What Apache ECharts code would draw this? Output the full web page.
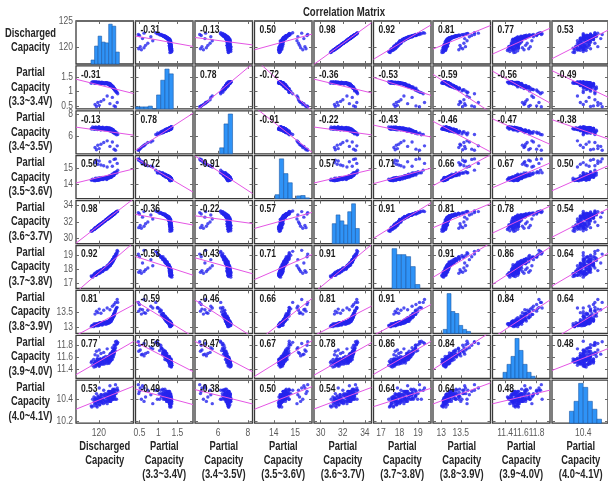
<!DOCTYPE html>
<html><head><meta charset="utf-8">
<script src="https://cdn.jsdelivr.net/npm/echarts@6/dist/echarts.min.js"></script>
<style>html,body{margin:0;padding:0;background:#fff}#c{width:608px;height:481px}</style>
</head><body><div id="c"></div>
<script>
// ---------------- data ----------------
const varLabels = [
  "Discharged\nCapacity",
  "Partial\nCapacity\n(3.3~3.4V)",
  "Partial\nCapacity\n(3.4~3.5V)",
  "Partial\nCapacity\n(3.5~3.6V)",
  "Partial\nCapacity\n(3.6~3.7V)",
  "Partial\nCapacity\n(3.7~3.8V)",
  "Partial\nCapacity\n(3.8~3.9V)",
  "Partial\nCapacity\n(3.9~4.0V)",
  "Partial\nCapacity\n(4.0~4.1V)"
];
const axisMin = [116.7, 0.395, 4.43, 13.1, 29.4, 16.6, 12.79, 11.24, 10.185];
const axisMax = [125.0, 1.91, 8.32, 15.78, 34.6, 19.7, 14.26, 11.97, 10.57];
const rowTicks = [[120,125],[0.5,1,1.5],[6,8],[14,15],[30,32,34],[17,18,19],[13,13.5],[11.4,11.6,11.8],[10.2,10.4]];
const colTicks = [[120],[0.5,1,1.5],[6,8],[14,15],[30,32,34],[17,18,19],[13,13.5],[11.4,11.6,11.8],[10.4]];
const corrText = [
  [null,-0.31,-0.13,0.50,0.98,0.92,0.81,0.77,0.53],
  [-0.31,null,0.78,-0.72,-0.36,-0.53,-0.59,-0.56,-0.49],
  [-0.13,0.78,null,-0.91,-0.22,-0.43,-0.46,-0.47,-0.38],
  [0.50,-0.72,-0.91,null,0.57,0.71,0.66,0.67,0.50],
  [0.98,-0.36,-0.22,0.57,null,0.91,0.81,0.78,0.54],
  [0.92,-0.53,-0.43,0.71,0.91,null,0.91,0.86,0.64],
  [0.81,-0.59,-0.46,0.66,0.81,0.91,null,0.84,0.64],
  [0.77,-0.56,-0.47,0.67,0.78,0.86,0.84,null,0.48],
  [0.53,-0.49,-0.38,0.50,0.54,0.64,0.64,0.48,null]
];
const V1 = [118.90,119.10,119.25,119.35,119.45,119.55,119.65,119.72,119.80,119.88,119.95,120.03,120.10,120.17,120.25,120.35,120.45,120.55,120.65,120.75,120.82,120.90,120.98,121.05,121.12,121.18,121.25,121.32,121.35,121.40,121.43,121.47,121.50,121.53,121.56,121.60,121.62,121.65,121.68,121.71,121.74,121.77,121.79,121.82,121.85,121.88,121.92,121.95,121.98,122.02,122.05,122.08,122.12,122.15,122.20,122.24,122.28,122.40,122.55,122.72,
  119.45,119.65,119.85,120.05,120.30,120.70,121.20,121.60,121.95,122.20,122.40,122.65,
  118.98,119.30,119.40,119.52,119.60,119.76,119.84,119.92,120.00,120.07,120.14,120.21,120.30,120.40,120.50,120.60,120.70,120.86,121.00,121.15,121.28,121.45,121.51,121.58,121.64,121.70,121.75,121.81,121.87,121.90,121.97,122.00,122.07,122.10,122.18,122.22,122.32,122.36,122.48,122.62];
const V2 = [1.30,1.35,1.32,1.35,1.31,1.33,1.32,1.34,1.30,1.33,1.30,1.34,1.31,1.32,1.29,1.32,1.30,1.33,1.29,1.31,1.28,1.32,1.29,1.32,1.28,1.30,1.29,1.30,1.26,1.29,1.26,1.30,1.26,1.27,1.23,1.26,1.24,1.27,1.22,1.23,1.20,1.24,1.20,1.23,1.18,1.20,1.18,1.20,1.15,1.17,1.14,1.17,1.13,1.13,1.09,1.11,1.08,1.07,0.97,0.93,
  0.55,0.48,0.62,0.52,0.66,0.72,0.85,0.58,0.80,0.50,0.47,0.62,
  1.33,1.34,1.30,1.32,1.35,1.30,1.33,1.31,1.34,1.29,1.32,1.33,1.29,1.34,1.30,1.32,1.29,1.28,1.31,1.32,1.28,1.28,1.24,1.25,1.27,1.22,1.23,1.20,1.22,1.17,1.18,1.18,1.13,1.17,1.11,1.12,1.06,1.03,1.02,0.98];
const V3 = [6.69,6.85,6.66,6.82,6.68,6.85,6.73,6.79,6.62,6.80,6.68,6.85,6.67,6.74,6.60,6.79,6.67,6.83,6.63,6.74,6.66,6.80,6.62,6.77,6.63,6.80,6.69,6.73,6.56,6.74,6.62,6.79,6.59,6.67,6.51,6.70,6.58,6.74,6.52,6.62,6.54,6.68,6.48,6.64,6.48,6.65,6.52,6.58,6.40,6.56,6.44,6.60,6.40,6.46,6.30,6.48,6.34,6.44,6.15,6.17,
  5.00,4.80,5.20,4.90,5.30,5.45,5.60,5.10,5.50,4.85,4.75,5.15,
  6.70,6.79,6.67,6.80,6.70,6.71,6.80,6.66,6.86,6.67,6.79,6.71,6.60,6.78,6.78,6.72,6.73,6.60,6.72,6.82,6.62,6.70,6.58,6.70,6.58,6.59,6.65,6.49,6.68,6.49,6.58,6.48,6.36,6.53,6.50,6.42,6.38,6.23,6.28,6.31];
const V4 = [14.26,14.31,14.23,14.26,14.22,14.33,14.27,14.34,14.27,14.31,14.32,14.35,14.27,14.35,14.32,14.41,14.35,14.35,14.31,14.40,14.38,14.43,14.35,14.37,14.33,14.44,14.38,14.46,14.39,14.43,14.43,14.46,14.39,14.47,14.45,14.53,14.47,14.47,14.43,14.53,14.50,14.55,14.48,14.50,14.47,14.57,14.52,14.59,14.53,14.58,14.58,14.62,14.55,14.64,14.62,14.71,14.66,14.70,14.72,14.88,
  15.35,15.50,15.25,15.45,15.20,15.15,15.08,15.40,15.12,15.55,15.58,15.30,
  14.26,14.30,14.25,14.37,14.24,14.37,14.26,14.24,14.31,14.41,14.31,14.34,14.30,14.31,14.43,14.30,14.40,14.37,14.43,14.30,14.42,14.46,14.42,14.54,14.43,14.54,14.46,14.45,14.52,14.62,14.54,14.58,14.55,14.57,14.70,14.58,14.71,14.69,14.79,14.72];
const V5 = [30.89,30.95,31.13,31.15,31.28,31.26,31.36,31.35,31.49,31.49,31.60,31.57,31.66,31.69,31.79,31.77,31.90,31.91,32.06,32.07,32.13,32.12,32.24,32.25,32.36,32.31,32.40,32.38,32.49,32.47,32.55,32.50,32.56,32.56,32.63,32.57,32.65,32.62,32.73,32.69,32.72,32.68,32.77,32.75,32.83,32.77,32.83,32.79,32.90,32.87,32.95,32.89,32.96,32.96,33.05,32.99,33.08,33.11,33.29,33.34,
  31.25,31.33,31.50,31.59,31.80,32.01,32.38,32.60,32.86,32.98,33.15,33.27,
  30.96,31.11,31.14,31.28,31.37,31.42,31.50,31.49,31.58,31.68,31.64,31.74,31.76,31.88,31.86,31.97,32.06,32.10,32.29,32.31,32.44,32.49,32.50,32.61,32.69,32.67,32.74,32.71,32.79,32.86,32.82,32.89,32.90,32.98,32.94,33.02,33.11,33.07,33.24,33.26];
const V6 = [17.50,17.42,17.55,17.55,17.66,17.55,17.69,17.63,17.79,17.71,17.77,17.68,17.83,17.78,17.92,17.81,17.90,17.83,18.01,17.95,18.08,17.96,18.06,18.06,18.16,18.04,18.18,18.13,18.29,18.21,18.26,18.17,18.31,18.26,18.39,18.27,18.34,18.26,18.43,18.36,18.49,18.37,18.46,18.45,18.56,18.44,18.58,18.52,18.68,18.62,18.67,18.59,18.75,18.71,18.86,18.76,18.85,18.87,19.18,19.28,
  17.70,17.77,17.83,17.89,17.96,18.08,18.24,18.44,18.68,18.89,19.08,19.35,
  17.46,17.62,17.56,17.65,17.56,17.68,17.79,17.68,17.78,17.74,17.86,17.73,17.85,17.92,17.84,18.03,17.94,18.07,18.01,18.01,18.17,18.32,18.26,18.35,18.27,18.38,18.51,18.41,18.53,18.49,18.65,18.52,18.67,18.73,18.69,18.89,18.86,18.98,19.00,19.10];
const V7 = [13.02,13.06,13.02,13.10,13.06,13.12,13.05,13.10,13.09,13.13,13.06,13.12,13.09,13.16,13.11,13.13,13.08,13.15,13.12,13.18,13.12,13.15,13.10,13.18,13.14,13.20,13.13,13.18,13.16,13.21,13.14,13.20,13.17,13.24,13.20,13.22,13.17,13.24,13.21,13.28,13.22,13.26,13.21,13.30,13.26,13.33,13.27,13.33,13.32,13.38,13.33,13.39,13.37,13.46,13.44,13.47,13.44,13.58,13.66,13.85,
  13.45,13.55,13.50,13.62,13.48,13.58,13.66,13.60,13.72,13.78,13.85,13.95,
  13.05,13.11,13.05,13.09,13.07,13.12,13.05,13.10,13.13,13.07,13.16,13.10,13.15,13.10,13.08,13.14,13.18,13.14,13.17,13.12,13.16,13.22,13.16,13.22,13.20,13.26,13.20,13.27,13.31,13.27,13.37,13.33,13.40,13.36,13.38,13.46,13.55,13.53,13.63,13.68];
const V8 = [11.51,11.46,11.56,11.49,11.51,11.44,11.53,11.49,11.57,11.47,11.52,11.45,11.56,11.49,11.57,11.48,11.54,11.52,11.58,11.48,11.56,11.51,11.61,11.54,11.56,11.49,11.58,11.54,11.61,11.52,11.56,11.50,11.60,11.54,11.62,11.53,11.59,11.57,11.63,11.54,11.62,11.57,11.67,11.61,11.63,11.56,11.66,11.62,11.70,11.61,11.66,11.60,11.72,11.66,11.75,11.67,11.74,11.76,11.87,11.85,
  11.64,11.70,11.62,11.72,11.66,11.68,11.74,11.65,11.76,11.80,11.86,11.83,
  11.53,11.43,11.50,11.53,11.46,11.57,11.49,11.55,11.48,11.45,11.53,11.57,11.51,11.55,11.48,11.53,11.59,11.50,11.56,11.52,11.60,11.50,11.57,11.60,11.53,11.66,11.58,11.65,11.59,11.56,11.65,11.70,11.65,11.70,11.64,11.70,11.80,11.71,11.81,11.83];
const V9 = [10.34,10.40,10.34,10.38,10.37,10.41,10.34,10.40,10.36,10.43,10.38,10.40,10.35,10.41,10.38,10.44,10.37,10.40,10.36,10.43,10.39,10.45,10.38,10.42,10.41,10.45,10.38,10.44,10.40,10.47,10.42,10.44,10.38,10.45,10.41,10.47,10.40,10.43,10.38,10.46,10.41,10.47,10.40,10.44,10.43,10.47,10.40,10.45,10.41,10.49,10.44,10.45,10.40,10.46,10.43,10.49,10.42,10.45,10.40,10.48,
  10.40,10.45,10.38,10.50,10.42,10.48,10.36,10.52,10.44,10.47,10.53,10.50,
  10.33,10.42,10.36,10.40,10.36,10.33,10.39,10.42,10.38,10.41,10.35,10.39,10.44,10.37,10.41,10.39,10.44,10.37,10.42,10.44,10.39,10.47,10.41,10.45,10.41,10.38,10.44,10.47,10.43,10.45,10.40,10.44,10.48,10.41,10.45,10.43,10.48,10.40,10.45,10.48];
// histogram bins (start, bin width, heights)
const histStart = [118.87, 0.40, 6.10, 14.06, 31.05, 17.6, 13.05, 11.373, 10.305];
const histWidth = [0.51, 0.11, 0.29, 0.2, 0.35, 0.25, 0.1, 0.051, 0.0315];
const H1 = [10,45,70,55,53,100,95,30];
const H2 = [5,5,5,7,0,35,72,100,88];
const H3 = [15,75,100];
const H4 = [10,100,63,40,0,7,8,2];
const H5 = [50,72,57,47,80,100,38];
const H6 = [100,85,85,80,55,10];
const H7 = [10,100,55,50,20,10,5];
const H8 = [15,35,55,100,70,35,15,5];
const H9 = [30,55,100,90,55,35,10];

// ---------------- layout ----------------
const vars = [V1,V2,V3,V4,V5,V6,V7,V8,V9];
const hists = [H1,H2,H3,H4,H5,H6,H7,H8,H9];
const N = 9;
const LEFT = 76, TOP = 21, PX = 59.5, PY = 44.9, W = 57.5, H = 43;
const FONT = "'Liberation Sans',Arial,sans-serif";
const TICK = {show: true, inside: true, length: 3, lineStyle: {color: '#6a6a6a', width: 1}};

const grids = [], xAxes = [], yAxes = [], series = [], graphics = [];
const bottomX = [], leftY = [];

function fit(xs, ys) {
  const n = xs.length;
  let mx = 0, my = 0;
  for (let k = 0; k < n; k++) { mx += xs[k]; my += ys[k]; }
  mx /= n; my /= n;
  let sxy = 0, sxx = 0;
  for (let k = 0; k < n; k++) { sxy += (xs[k]-mx)*(ys[k]-my); sxx += (xs[k]-mx)*(xs[k]-mx); }
  const b = sxy / sxx;
  return [my - b*mx, b];
}

for (let i = 0; i < N; i++) {
  for (let j = 0; j < N; j++) {
    const g = grids.length;
    grids.push({left: LEFT + j*PX, top: TOP + i*PY, width: W, height: H, show: true,
      borderColor: '#3a3a3a', borderWidth: 1.3, backgroundColor: '#fff'});
    const xIdx = xAxes.length;
    xAxes.push({type: 'value', gridIndex: g, position: 'bottom', min: axisMin[j], max: axisMax[j],
      axisLine: {show: false}, splitLine: {show: false}, axisLabel: {show: false},
      axisTick: Object.assign({customValues: colTicks[j]}, TICK)});
    xAxes.push({type: 'value', gridIndex: g, position: 'top', min: axisMin[j], max: axisMax[j],
      axisLine: {show: false}, splitLine: {show: false}, axisLabel: {show: false},
      axisTick: Object.assign({customValues: colTicks[j]}, TICK)});
    const yIdx = yAxes.length;
    yAxes.push({type: 'value', gridIndex: g, position: 'left', min: axisMin[i], max: axisMax[i],
      axisLine: {show: false}, splitLine: {show: false}, axisLabel: {show: false},
      axisTick: Object.assign({customValues: rowTicks[i]}, TICK)});
    yAxes.push({type: 'value', gridIndex: g, position: 'right', min: axisMin[i], max: axisMax[i],
      axisLine: {show: false}, splitLine: {show: false}, axisLabel: {show: false},
      axisTick: Object.assign({customValues: rowTicks[i]}, TICK)});
    if (i === N-1) bottomX[j] = xIdx;
    if (j === 0) leftY[i] = yIdx;
    if (i === j) {
      const hs = hists[i];
      const hmax = Math.max(...hs);
      yAxes.push({type: 'value', gridIndex: g, position: 'left', min: 0, max: hmax*1.08, show: false});
      const hy = yAxes.length - 1;
      series.push({type: 'custom', xAxisIndex: xIdx, yAxisIndex: hy, silent: true, z: 2,
        data: hs.map((h, k) => [histStart[i] + k*histWidth[i], histStart[i] + (k+1)*histWidth[i], h]),
        renderItem: (params, api) => {
          const p0 = api.coord([api.value(0), 0]);
          const p1 = api.coord([api.value(1), api.value(2)]);
          return {type: 'rect', shape: {x: p0[0], y: p1[1], width: p1[0]-p0[0], height: p0[1]-p1[1]},
            style: {fill: '#2f93f7', stroke: '#1d5aa8', lineWidth: 0.6}};
        }});
    } else {
      const xs = vars[j], ys = vars[i];
      series.push({type: 'scatter', xAxisIndex: xIdx, yAxisIndex: yIdx, silent: true, z: 2,
        symbolSize: 3.4, itemStyle: {color: '#2424ee'},
        data: xs.map((x, k) => [x, ys[k]])});
      const [a, b] = fit(xs, ys);
      series.push({type: 'line', xAxisIndex: xIdx, yAxisIndex: yIdx, silent: true, z: 3, clip: true,
        symbol: 'none', lineStyle: {color: '#e455e4', width: 1},
        data: [[axisMin[j], a + b*axisMin[j]], [axisMax[j], a + b*axisMax[j]]]});
      graphics.push({type: 'text', x: LEFT + j*PX + 5, y: TOP + i*PY + 4, z: 10, scaleX: 0.85,
        style: {text: corrText[i][j].toFixed(2), font: 'bold 10px ' + FONT, fill: '#1a1a1a'}});
    }
  }
}

for (let i = 0; i < N; i++) {
  graphics.push({type: 'text', x: 30.5, y: TOP + i*PY + H/2 - (i === 0 ? 2 : 0), z: 10, scaleX: 0.78,
    style: {text: varLabels[i], font: 'bold 12px ' + FONT, fill: '#262626', align: 'center', verticalAlign: 'middle', lineHeight: 14.5}});
  graphics.push({type: 'text', x: LEFT + i*PX + W/2, y: 440, z: 10, scaleX: 0.78,
    style: {text: varLabels[i], font: 'bold 12px ' + FONT, fill: '#262626', align: 'center', verticalAlign: 'top', lineHeight: 14}});
}
graphics.push({type: 'text', x: 344, y: 13, z: 10, scaleX: 0.8,
  style: {text: 'Correlation Matrix', font: 'bold 12px ' + FONT, fill: '#262626', align: 'center', verticalAlign: 'middle'}});

const chart = echarts.init(document.getElementById('c'), null, {renderer: 'canvas'});
chart.setOption({animation: false, grid: grids, xAxis: xAxes, yAxis: yAxes, series: series});

// tick labels placed through the axes' own scales
const bottomEdge = TOP + (N-1)*PY + H;
for (let j = 0; j < N; j++) {
  colTicks[j].forEach(v => {
    const px = chart.convertToPixel({xAxisIndex: bottomX[j]}, v);
    graphics.push({type: 'text', x: px, y: bottomEdge + 5, z: 10, scaleX: 0.85,
      style: {text: String(v), font: '10px ' + FONT, fill: '#5a5a5a', align: 'center', verticalAlign: 'top'}});
  });
}
for (let i = 0; i < N; i++) {
  rowTicks[i].forEach(v => {
    const py = chart.convertToPixel({yAxisIndex: leftY[i]}, v);
    graphics.push({type: 'text', x: LEFT - 3, y: py, z: 10, scaleX: 0.85,
      style: {text: String(v), font: '10px ' + FONT, fill: '#5a5a5a', align: 'right', verticalAlign: 'middle'}});
  });
}
chart.setOption({graphic: graphics});
</script></body></html>
